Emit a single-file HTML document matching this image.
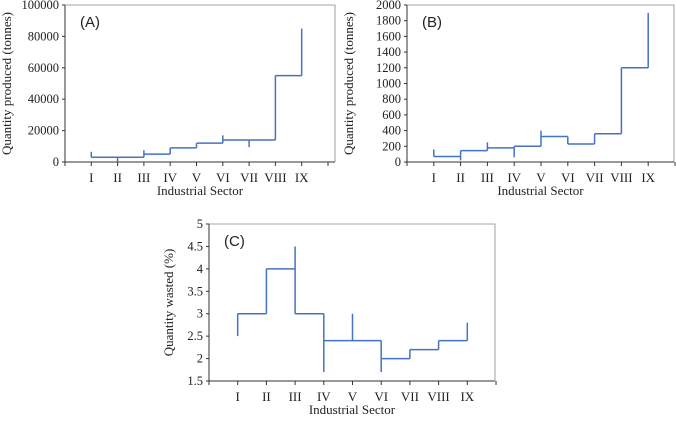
<!DOCTYPE html>
<html><head><meta charset="utf-8"><style>
body{margin:0;background:#fff}
svg text{font-family:"Liberation Serif",serif;fill:#222}
</style></head><body>
<svg id="s" width="676" height="418" viewBox="0 0 676 418"></svg>
<script>
const categories=["I","II","III","IV","V","VI","VII","VIII","IX"];
const levelsA=[3000,3000,5000,9000,12000,14000,14000,55000];
const lowA=[3000,0,3000,5000,9000,12000,9500,14000,55000];
const highA=[6500,3000,7500,9000,12000,17000,14000,55000,85000];
const ticksA=[0,20000,40000,60000,80000,100000];
const levelsB=[70,145,180,200,325,230,360,1200];
const lowB=[70,20,145,60,200,230,230,360,1200];
const highB=[160,145,250,200,400,325,360,1200,1900];
const ticksB=[0,200,400,600,800,1000,1200,1400,1600,1800,2000];
const levelsC=[3,4,3,2.4,2.4,2,2.2,2.4];
const lowC=[2.5,3,3,1.7,2.4,1.7,2,2.2,2.4];
const highC=[3,4,4.5,3,3,2.4,2.2,2.4,2.8];
const ticksC=["1.5","2","2.5","3","3.5","4","4.5","5"];
const S=document.getElementById('s');
const NS='http://www.w3.org/2000/svg';
function mk(t,a,p){const e=document.createElementNS(NS,t);for(const k in a)e.setAttribute(k,a[k]);(p||S).appendChild(e);return e;}
function panel(cfg,levels,low,high,ticks){
  const g=mk('g',{});
  
  
  const ymin=+ticks[0],ymax=+ticks[ticks.length-1];
  const Y=v=>cfg.y0+(v-ymin)/(ymax-ymin)*(cfg.y1-cfg.y0);
  const X=i=>cfg.x0+i*cfg.step;
  const ax=mk('path',{d:`M${cfg.x0} ${cfg.y1}V${cfg.y0}H${cfg.xr}`,stroke:'#333',fill:'none','stroke-width':1},g);
  
  
  const bx=mk('path',{d:`M${cfg.x0} ${cfg.y1}H${cfg.xr}V${cfg.y0}`,stroke:'#888',fill:'none','stroke-width':0.8},g);
  
  
  for(let i=0;i<=10;i++){const x=X(i);if(x<=cfg.xr+1)mk('line',{x1:x,x2:x,y1:cfg.y0,y2:cfg.y0+4,stroke:'#333'},g);}
  ticks.forEach(t=>{const y=Y(+t);mk('line',{x1:cfg.x0-3,x2:cfg.x0,y1:y,y2:y,stroke:'#333'},g);
    const tx=mk('text',{x:cfg.x0-6,y:y+4,'text-anchor':'end','font-size':12.5},g);tx.textContent=t;
    
    });
  categories.forEach((c,i)=>{const tx=mk('text',{x:X(i+1),y:cfg.y0+20,'text-anchor':'middle','font-size':13},g);tx.textContent=c;
    
    });
  const xt=mk('text',{x:(cfg.x0+cfg.xr)/2,y:cfg.y0+33,'text-anchor':'middle','font-size':13},g);xt.textContent='Industrial Sector';
  
  
  const yt=mk('text',{transform:`translate(${cfg.ytx},${(cfg.y0+cfg.y1)/2}) rotate(-90)`,'text-anchor':'middle','font-size':13},g);yt.textContent=cfg.ytitle;
  
  
  const lb=mk('text',{x:cfg.x0+15,y:cfg.y1+22,'font-size':15,style:'font-family:"Liberation Sans",sans-serif'},g);lb.textContent=cfg.label;
  
  
  levels.forEach((v,i)=>{const l=mk('line',{x1:X(i+1),x2:X(i+2),y1:Y(v),y2:Y(v),stroke:'#4472c4','stroke-width':1.5},g);
    
    });
  low.forEach((v,i)=>{const l=mk('line',{x1:X(i+1),x2:X(i+1),y1:Y(v),y2:Y(high[i]),stroke:'#4472c4','stroke-width':1.5},g);
    
    });
}
panel({name:'chart-a',x0:65,xr:335,step:26.3,y0:162,y1:5,ytx:11,ytitle:'Quantity produced (tonnes)',label:'(A)'},levelsA,lowA,highA,ticksA);
panel({name:'chart-b',x0:407,xr:674,step:26.8,y0:162,y1:5,ytx:353,ytitle:'Quantity produced (tonnes)',label:'(B)'},levelsB,lowB,highB,ticksB);
panel({name:'chart-c',x0:209,xr:495,step:28.7,y0:381,y1:224,ytx:173,ytitle:'Quantity wasted (%)',label:'(C)'},levelsC,lowC,highC,ticksC);
</script>
</body></html>
